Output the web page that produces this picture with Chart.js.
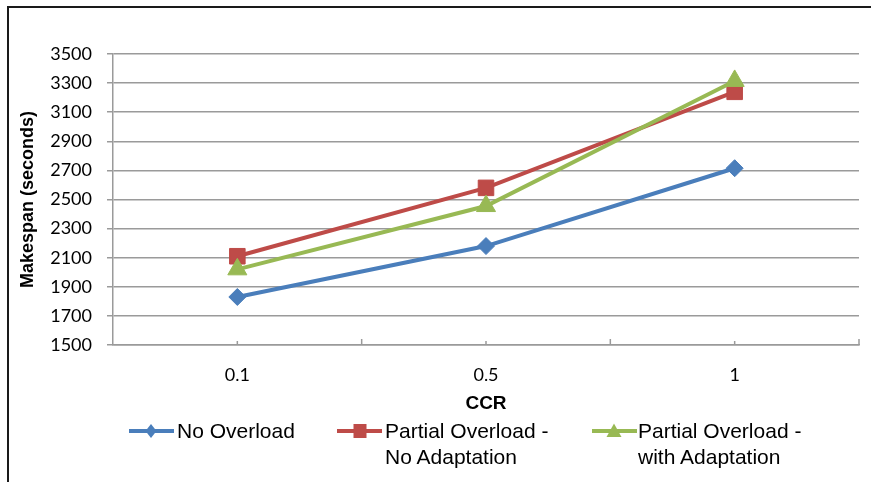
<!DOCTYPE html>
<html>
<head>
<meta charset="utf-8">
<script src="https://cdn.jsdelivr.net/npm/chart.js@4/dist/chart.umd.min.js"></script>
<style>
  html, body { margin: 0; padding: 0; background: #fff; }
  #wrap { position: relative; width: 871px; height: 482px; overflow: hidden; }
  #frame { position: absolute; left: 7px; top: 6px; width: 900px; height: 500px;
           border-left: 2px solid #1a1a1a; border-top: 2px solid #1a1a1a; }
  #chart { position: absolute; left: 0; top: 0; }
  .leg { position: absolute; font-family: "Liberation Sans", Arial, sans-serif;
         font-size: 21px; line-height: 26px; color: #000; white-space: nowrap; }
  .icon { position: absolute; }
</style>
</head>
<body>
<div id="wrap">
  <div id="frame"></div>
  <canvas id="chart" width="871" height="482"></canvas>

  <svg class="icon" style="left:127px;top:421px" width="50" height="20">
    <line x1="2" y1="10" x2="47" y2="10" stroke="#4A7EBB" stroke-width="4"/>
    <polygon points="24,3 29.5,10 24,17 18.5,10" fill="#4A7EBB"/>
  </svg>
  <div class="leg" style="left:177px;top:418px">No Overload</div>

  <svg class="icon" style="left:335px;top:421px" width="50" height="20">
    <line x1="2" y1="10" x2="47" y2="10" stroke="#BE4B48" stroke-width="4"/>
    <rect x="18.5" y="3" width="13" height="14" fill="#BE4B48"/>
  </svg>
  <div class="leg" style="left:385px;top:418px">Partial Overload -<br>No Adaptation</div>

  <svg class="icon" style="left:590px;top:421px" width="50" height="20">
    <line x1="2" y1="10" x2="47" y2="10" stroke="#98B954" stroke-width="4"/>
    <polygon points="24,2.5 31.5,16 16.5,16" fill="#98B954"/>
  </svg>
  <div class="leg" style="left:638px;top:418px">Partial Overload -<br>with Adaptation</div>
</div>

<script>
// CCR categories and makespan values (seconds)
const categories = ['0.1', '0.5', '1'];
const noOverload = [1830, 2180, 2715];
const partialNoAdaptation = [2110, 2580, 3240];
const partialWithAdaptation = [2020, 2455, 3315];

// value axis range
const yMin = 1500;
const yMax = 3500;
const yStep = 200;

const axisGray = '#9a9a9a';
const tickFont = { family: 'Lato', size: 18 };

// small tick marks pointing up from the category axis:
// longer ones between categories, shorter ones at each category
const innerTicks = {
  id: 'innerTicks',
  beforeDatasetsDraw(chart) {
    const x = chart.scales.x;
    const base = chart.chartArea.bottom;
    const ctx = chart.ctx;
    const step = x.getPixelForValue(1) - x.getPixelForValue(0);
    ctx.save();
    ctx.strokeStyle = axisGray;
    ctx.lineWidth = 1.5;
    const tick = (px, len) => {
      ctx.beginPath();
      ctx.moveTo(px, base);
      ctx.lineTo(px, base - len);
      ctx.stroke();
    };
    categories.forEach((c, i) => {
      const cx = x.getPixelForValue(i);
      tick(cx, 4);
      tick(cx + step / 2, 6);
    });
    ctx.restore();
  }
};

function draw() {
  new Chart(document.getElementById('chart'), {
    type: 'line',
    data: {
      labels: categories,
      datasets: [
        {
          label: 'No Overload',
          data: noOverload,
          borderColor: '#4A7EBB',
          backgroundColor: '#4A7EBB',
          borderWidth: 4,
          pointStyle: 'rectRot',
          pointRadius: 8.5,
          pointBorderWidth: 1,
          tension: 0,
          order: 2
        },
        {
          label: 'Partial Overload - No Adaptation',
          data: partialNoAdaptation,
          borderColor: '#BE4B48',
          backgroundColor: '#BE4B48',
          borderWidth: 4,
          pointStyle: 'rect',
          pointRadius: 11,
          pointBorderWidth: 1,
          tension: 0,
          order: 1
        },
        {
          label: 'Partial Overload - with Adaptation',
          data: partialWithAdaptation,
          borderColor: '#98B954',
          backgroundColor: '#98B954',
          borderWidth: 4,
          pointStyle: 'triangle',
          pointRadius: 11,
          pointBorderWidth: 1,
          tension: 0,
          order: 0
        }
      ]
    },
    options: {
      responsive: false,
      animation: false,
      devicePixelRatio: 1,
      layout: { padding: { top: 54, right: 11, bottom: 60, left: 0 } },
      plugins: {
        legend: { display: false },
        tooltip: { enabled: false }
      },
      scales: {
        x: {
          offset: true,
          grid: { display: true, drawOnChartArea: false, drawTicks: false },
          border: { display: true, color: axisGray, width: 1.5 },
          ticks: {
            color: '#000',
            font: tickFont,
            padding: 19,
            maxRotation: 0
          },
          title: {
            display: true,
            text: 'CCR',
            color: '#000',
            font: { family: 'Liberation Sans', size: 19, weight: 'bold' },
            padding: { top: 0, bottom: 7 }
          },
          afterFit(scale) { scale.height = 77; }
        },
        y: {
          min: yMin,
          max: yMax,
          grid: { color: axisGray, lineWidth: 1.5, tickLength: 6 },
          border: { display: true, color: axisGray, width: 1.5 },
          ticks: {
            stepSize: yStep,
            color: '#000',
            font: tickFont,
            padding: 15,
            callback: (v) => String(v)
          },
          title: {
            display: true,
            text: 'Makespan (seconds)',
            color: '#000',
            font: { family: 'Liberation Sans', size: 18, weight: 'bold' },
            padding: { top: 17, bottom: 0 }
          },
          afterFit(scale) { scale.width = 113; }
        }
      }
    },
    plugins: [innerTicks]
  });
}

// make sure the tick font is ready before the canvas text is drawn
if (document.fonts && document.fonts.load) {
  Promise.all([
    document.fonts.load('18px Lato'),
    document.fonts.load('bold 18px "Liberation Sans"')
  ]).then(draw, draw);
} else {
  draw();
}
</script>
</body>
</html>
